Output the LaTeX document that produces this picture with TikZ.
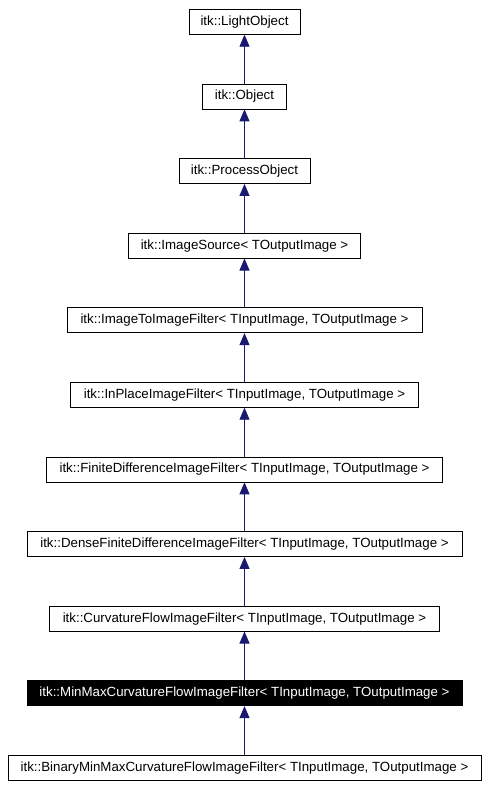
\documentclass[tikz,border=0pt]{standalone}
\usepackage{fontspec}
\setmainfont{Liberation Sans}
\usetikzlibrary{arrows.meta}
\definecolor{edgeblue}{HTML}{191970}
\tikzset{
  cls/.style={draw=black, line width=0.8pt, fill=white, minimum height=25pt, inner sep=0pt, font=\fontsize{13.3}{15}\selectfont, text=black},
  cur/.style={cls, fill=black, text=white},
  inherit/.style={draw=edgeblue, line width=0.9pt, -{Triangle[width=10pt,length=12pt]}, color=edgeblue},
}
\begin{document}
\begin{tikzpicture}[x=1pt,y=-1pt]
\useasboundingbox (0,0) rectangle (487,788);
\node[cls, minimum width=111pt]   (n1)  at (244.5,21.8)  {itk::LightObject};
\node[cls, minimum width=83.4pt]  (n2)  at (244.5,96.4)  {itk::Object};
\node[cls, minimum width=131pt]   (n3)  at (244.5,171.0) {itk::ProcessObject};
\node[cls, minimum width=232pt]   (n4)  at (244.5,245.6) {itk::ImageSource< TOutputImage >};
\node[cls, minimum width=355pt]   (n5)  at (244.5,320.2) {itk::ImageToImageFilter< TInputImage, TOutputImage >};
\node[cls, minimum width=347.3pt] (n6)  at (244.5,394.8) {itk::InPlaceImageFilter< TInputImage, TOutputImage >};
\node[cls, minimum width=396.3pt] (n7)  at (244.5,469.4) {itk::FiniteDifferenceImageFilter< TInputImage, TOutputImage >};
\node[cls, minimum width=435pt]   (n8)  at (244.5,544.0) {itk::DenseFiniteDifferenceImageFilter< TInputImage, TOutputImage >};
\node[cls, minimum width=389.4pt] (n9)  at (244.5,618.6) {itk::CurvatureFlowImageFilter< TInputImage, TOutputImage >};
\node[cur, minimum width=435pt]   (n10) at (244.5,693.2) {itk::MinMaxCurvatureFlowImageFilter< TInputImage, TOutputImage >};
\node[cls, minimum width=473pt]   (n11) at (244.5,767.8) {itk::BinaryMinMaxCurvatureFlowImageFilter< TInputImage, TOutputImage >};
\draw[inherit] (n2.north) -- (n1.south);
\draw[inherit] (n3.north) -- (n2.south);
\draw[inherit] (n4.north) -- (n3.south);
\draw[inherit] (n5.north) -- (n4.south);
\draw[inherit] (n6.north) -- (n5.south);
\draw[inherit] (n7.north) -- (n6.south);
\draw[inherit] (n8.north) -- (n7.south);
\draw[inherit] (n9.north) -- (n8.south);
\draw[inherit] (n10.north) -- (n9.south);
\draw[inherit] (n11.north) -- (n10.south);
\end{tikzpicture}
\end{document}
